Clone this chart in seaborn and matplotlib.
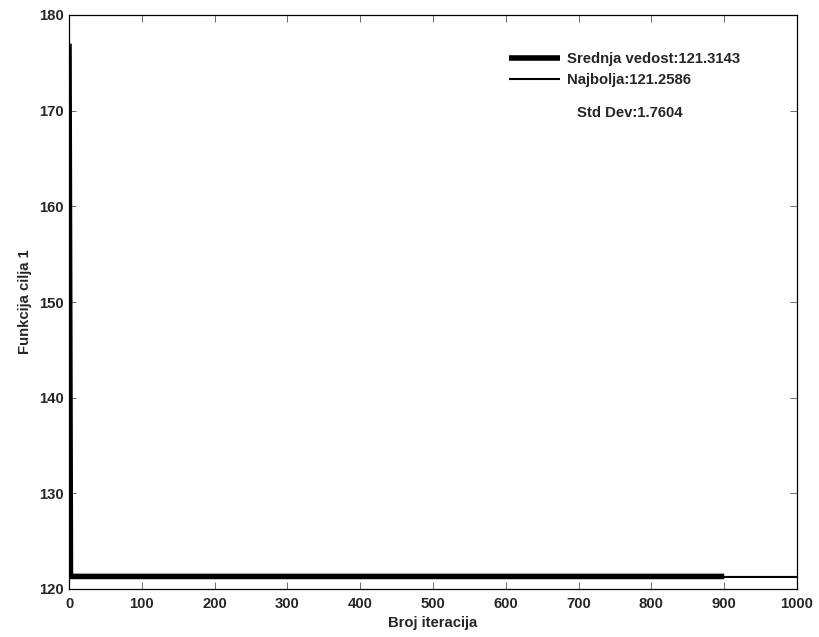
import matplotlib
matplotlib.use("Agg")
import matplotlib.pyplot as plt
import seaborn as sns
import pandas as pd

# Convergence history: objective value per iteration
mean_iters = [0, 2, 900]
mean_vals = [177.0, 121.3143, 121.3143]
best_iters = [0, 2, 1000]
best_vals = [177.0, 121.2586, 121.2586]

mean_label = "Srednja vedost:121.3143"
best_label = "Najbolja:121.2586"
std_text = "Std Dev:1.7604"

x_ticks = list(range(0, 1001, 100))
y_ticks = list(range(120, 181, 10))

FS = 10.7

sns.set_style("white")
plt.rcParams["font.family"] = ["Liberation Sans", "DejaVu Sans"]
plt.rcParams["font.weight"] = "bold"

fig = plt.figure(figsize=(8.19, 6.37), dpi=100)
ax = fig.add_axes([69 / 819, 1 - 589 / 637, (797 - 69) / 819, (589 - 15) / 637])

df_mean = pd.DataFrame({"iter": mean_iters, "val": mean_vals})
df_best = pd.DataFrame({"iter": best_iters, "val": best_vals})

sns.lineplot(data=df_mean, x="iter", y="val", ax=ax, color="black",
             linewidth=4.0, label=mean_label, solid_capstyle="butt",
             solid_joinstyle="miter")
sns.lineplot(data=df_best, x="iter", y="val", ax=ax, color="black",
             linewidth=1.5, label=best_label, solid_capstyle="butt")

ax.set_xlim(0, 1000)
ax.set_ylim(120, 180)
ax.set_xticks(x_ticks)
ax.set_yticks(y_ticks)
ax.set_xticklabels([str(t) for t in x_ticks], fontsize=FS, fontweight="bold")
ax.set_yticklabels([str(t) for t in y_ticks], fontsize=FS, fontweight="bold")
ax.tick_params(direction="in", length=5, width=0.6, color="#555555",
               top=True, right=True, bottom=True, left=True)
ax.tick_params(axis="x", pad=6)
ax.tick_params(axis="y", pad=4)

for s in ax.spines.values():
    s.set_visible(True)
    s.set_color("black")
    s.set_linewidth(0.9)

ax.set_xlabel("Broj iteracija", fontsize=FS, fontweight="bold", labelpad=3)
ax.set_ylabel("Funkcija cilja 1", fontsize=FS, fontweight="bold", labelpad=5)

leg = ax.legend(loc="upper left", bbox_to_anchor=(502 / 819, 1 - 45 / 637),
                bbox_transform=fig.transFigure, frameon=False, borderpad=0,
                handlelength=3.4, handletextpad=0.5, labelspacing=0.45,
                prop={"size": FS, "weight": "bold"})

fig.text(630 / 819, 1 - 113 / 637, std_text, ha="center", va="center",
         fontsize=FS, fontweight="bold")

fig.savefig("out.png", dpi=100, facecolor="white")
